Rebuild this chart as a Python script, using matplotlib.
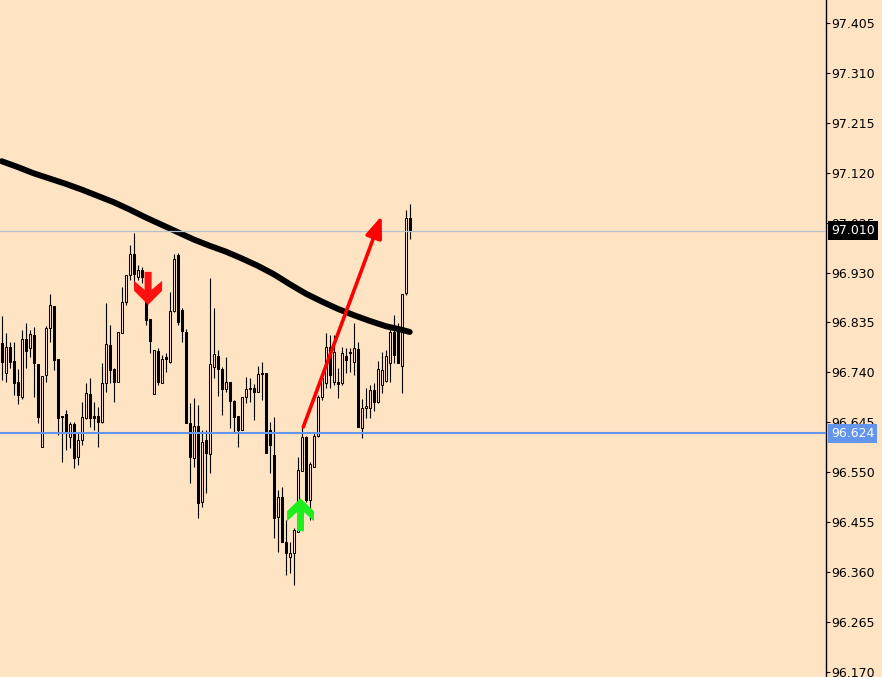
"""Candlestick chart with moving average, levels and signal arrows"""
import numpy as np
import matplotlib
matplotlib.use("Agg")
import matplotlib.pyplot as plt
import matplotlib.transforms as mtransforms

# candles (oldest first)
opens = [96.796, 96.739, 96.788, 96.762, 96.722, 96.693, 96.804, 96.786, 96.811, 96.756,
         96.598, 96.735, 96.825, 96.866, 96.766, 96.657, 96.661, 96.617, 96.642, 96.579,
         96.611, 96.653, 96.699, 96.657, 96.657, 96.646, 96.720, 96.792, 96.747, 96.722,
         96.815, 96.874, 96.925, 96.965, 96.922, 96.935, 96.878, 96.842, 96.699, 96.781,
         96.720, 96.769, 96.760, 96.857, 96.964, 96.859, 96.817, 96.644, 96.577, 96.638,
         96.493, 96.611, 96.585, 96.750, 96.771, 96.747, 96.708, 96.722, 96.686, 96.657,
         96.630, 96.693, 96.708, 96.710, 96.703, 96.737, 96.739, 96.630, 96.583, 96.465,
         96.503, 96.417, 96.389, 96.396, 96.436, 96.552, 96.617, 96.497, 96.560, 96.619,
         96.693, 96.720, 96.788, 96.722, 96.722, 96.720, 96.771, 96.779, 96.760, 96.785,
         96.634, 96.672, 96.672, 96.707, 96.684, 96.716, 96.724, 96.758, 96.817, 96.821,
         96.752, 96.891, 97.034]
highs = [96.847, 96.815, 96.798, 96.798, 96.747, 96.821, 96.834, 96.821, 96.826, 96.756,
         96.733, 96.828, 96.889, 96.866, 96.766, 96.657, 96.668, 96.646, 96.646, 96.627,
         96.684, 96.720, 96.729, 96.684, 96.674, 96.758, 96.872, 96.830, 96.748, 96.817,
         96.903, 96.925, 96.983, 97.005, 96.944, 96.941, 96.922, 96.842, 96.783, 96.786,
         96.773, 96.777, 96.893, 96.965, 96.967, 96.863, 96.823, 96.682, 96.691, 96.678,
         96.630, 96.630, 96.920, 96.863, 96.783, 96.750, 96.769, 96.722, 96.688, 96.657,
         96.693, 96.731, 96.729, 96.718, 96.752, 96.760, 96.739, 96.646, 96.655, 96.516,
         96.522, 96.459, 96.417, 96.444, 96.579, 96.636, 96.619, 96.569, 96.625, 96.697,
         96.739, 96.815, 96.811, 96.811, 96.748, 96.788, 96.786, 96.786, 96.834, 96.798,
         96.689, 96.710, 96.716, 96.720, 96.762, 96.779, 96.783, 96.825, 96.849, 96.834,
         96.889, 97.049, 97.061]
lows = [96.726, 96.722, 96.748, 96.697, 96.680, 96.690, 96.748, 96.769, 96.693, 96.644,
        96.598, 96.722, 96.798, 96.745, 96.621, 96.569, 96.592, 96.596, 96.558, 96.564,
        96.602, 96.651, 96.636, 96.630, 96.598, 96.644, 96.703, 96.720, 96.684, 96.722,
        96.815, 96.868, 96.916, 96.903, 96.916, 96.910, 96.830, 96.777, 96.699, 96.716,
        96.720, 96.741, 96.758, 96.855, 96.830, 96.798, 96.644, 96.530, 96.560, 96.463,
        96.484, 96.510, 96.549, 96.729, 96.695, 96.659, 96.703, 96.634, 96.627, 96.598,
        96.630, 96.682, 96.684, 96.649, 96.703, 96.688, 96.587, 96.549, 96.425, 96.398,
        96.417, 96.354, 96.358, 96.335, 96.436, 96.552, 96.493, 96.459, 96.560, 96.617,
        96.688, 96.710, 96.710, 96.716, 96.691, 96.716, 96.739, 96.741, 96.735, 96.636,
        96.615, 96.653, 96.653, 96.667, 96.682, 96.701, 96.722, 96.722, 96.758, 96.758,
        96.701, 96.887, 96.994]
closes = [96.760, 96.788, 96.760, 96.720, 96.697, 96.804, 96.781, 96.813, 96.758, 96.655,
          96.733, 96.825, 96.868, 96.764, 96.653, 96.655, 96.627, 96.642, 96.577, 96.611,
          96.655, 96.701, 96.653, 96.653, 96.646, 96.720, 96.794, 96.745, 96.722, 96.817,
          96.874, 96.925, 96.965, 96.927, 96.935, 96.922, 96.840, 96.800, 96.783, 96.722,
          96.766, 96.766, 96.857, 96.956, 96.836, 96.819, 96.644, 96.579, 96.638, 96.491,
          96.608, 96.587, 96.756, 96.775, 96.747, 96.708, 96.722, 96.686, 96.655, 96.630,
          96.693, 96.708, 96.710, 96.703, 96.737, 96.739, 96.587, 96.602, 96.463, 96.503,
          96.417, 96.396, 96.396, 96.440, 96.554, 96.617, 96.497, 96.566, 96.619, 96.693,
          96.729, 96.788, 96.735, 96.779, 96.718, 96.777, 96.764, 96.777, 96.786, 96.636,
          96.672, 96.676, 96.707, 96.684, 96.747, 96.745, 96.771, 96.817, 96.773, 96.758,
          96.889, 97.034, 97.010]

# moving average (read every 4th bar)
ma_idx = [0, 4, 8, 12, 16, 20, 24, 28, 32, 36, 40, 44, 48, 52, 56, 60, 64, 68,
          72, 76, 80, 84, 88, 92, 96, 100, 102]
ma_val = [97.142, 97.131, 97.119, 97.109, 97.099, 97.088, 97.076, 97.064, 97.050,
          97.035, 97.021, 97.007, 96.993, 96.981, 96.970, 96.957, 96.943, 96.927,
          96.908, 96.890, 96.875, 96.861, 96.849, 96.838, 96.828, 96.821, 96.817]

# levels and signals
last_price = 97.010
support = 96.624
sell_signal = (36.6, 96.900)
buy_signal = (74.7, 96.469)
trend_start = (75.4, 96.636)
trend_end = (95.0, 97.038)

yticks = [96.170, 96.265, 96.360, 96.455, 96.550, 96.645, 96.740,
          96.835, 96.930, 97.025, 97.120, 97.215, 97.310, 97.405]

BG = "#FFE4C4"

fig = plt.figure(figsize=(8.82, 6.77), dpi=100, facecolor=BG)
ax = fig.add_axes([0, 0, 826 / 882, 1], facecolor=BG)

x = np.arange(len(opens))
o = np.array(opens); c = np.array(closes)
bull = c >= o

ax.vlines(x, lows, highs, color="black", lw=0.8, zorder=2)
ax.bar(x, np.abs(c - o) + 1e-5, bottom=np.minimum(o, c), width=0.55,
       color=np.where(bull, BG, "black"), edgecolor="black", linewidth=0.75, zorder=2)

# moving average
ax.plot(ma_idx, ma_val, color="black", lw=4.3, solid_capstyle="round",
        solid_joinstyle="round", zorder=3)

# horizontal levels
ax.axhline(last_price, color="#B4BFCC", lw=0.9, zorder=4)
ax.axhline(support, color="#6495ED", lw=1.5, zorder=4)

# trend arrow
ax.annotate("", xy=trend_end, xytext=trend_start,
            arrowprops=dict(arrowstyle="-|>,head_length=1.3,head_width=0.5",
                            color="#FF0000", lw=2.6, shrinkA=0, shrinkB=0),
            zorder=5)

# signal arrows (shape in pixels around the anchor)
down_verts = [(-3.5, 16.5), (3.5, 16.5), (3.5, -1.5), (14, 7.5), (14, -2.5),
              (0, -16.5), (-14, -2.5), (-14, 7.5), (-3.5, -1.5), (-3.5, 16.5)]
up_verts = [(0, 16.5), (13.5, 3.5), (13.5, -6.5), (3.5, 2.5), (3.5, -16.5),
            (-3.5, -16.5), (-3.5, 2.5), (-13.5, -6.5), (-13.5, 3.5), (0, 16.5)]

def draw_arrow(verts, anchor, color):
    trans = mtransforms.ScaledTranslation(anchor[0], anchor[1], ax.transData)
    poly = plt.Polygon(verts, closed=True, facecolor=color, edgecolor="none",
                       transform=mtransforms.IdentityTransform() + trans, zorder=6)
    ax.add_patch(poly)

draw_arrow(down_verts, sell_signal, "#FF1010")
draw_arrow(up_verts, buy_signal, "#1EEE1E")

ax.set_xlim(-0.425, 206.075)
ax.set_ylim(96.160, 97.449)

for s in ["top", "left", "bottom"]:
    ax.spines[s].set_visible(False)
ax.spines["right"].set_linewidth(1.0)
ax.set_xticks([])
ax.yaxis.tick_right()
ax.set_yticks(yticks)
ax.set_yticklabels(["%.3f" % t for t in yticks])
ax.tick_params(axis="y", direction="out", length=3, width=0.8, pad=1,
               labelsize=9, colors="black")

# price tags on the scale
tag_tr = mtransforms.blended_transform_factory(ax.transAxes, ax.transData)
for price, box in [(last_price, "black"), (support, "#6495ED")]:
    ax.text(1 + 5 / 826, price, "%.3f" % price, transform=tag_tr, color="white",
            fontsize=9, va="center", ha="left", zorder=10, clip_on=False,
            bbox=dict(boxstyle="square,pad=0.22", facecolor=box, edgecolor="none"))

fig.savefig("out.png", dpi=100, facecolor=BG)
